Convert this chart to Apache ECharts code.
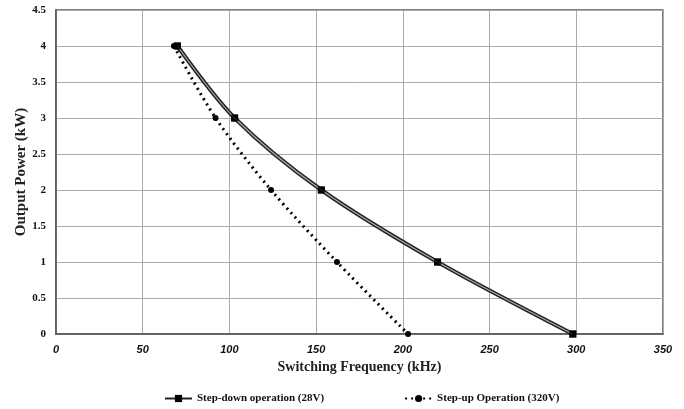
<!DOCTYPE html>
<html><head><meta charset="utf-8">
<script src="https://cdn.jsdelivr.net/npm/echarts@6/dist/echarts.min.js"></script>
<style>html,body{margin:0;padding:0;background:#fff;}#c{width:684px;height:409px;}</style>
</head><body><div id="c"></div>
<script>
var power = [4, 3, 2, 1, 0];
var stepDownFreq = [70, 103, 153, 220, 298];
var stepUpFreq = [68, 92, 124, 162, 203];
var xTicks = [0, 50, 100, 150, 200, 250, 300, 350];
var yTicks = [0, 0.5, 1, 1.5, 2, 2.5, 3, 3.5, 4, 4.5];
var nameDown = 'Step-down operation (28V)';
var nameUp = 'Step-up Operation (320V)';

function pairs(xs, ys){ return xs.map(function(x,i){ return [x, ys[i]]; }); }

var chart = echarts.init(document.getElementById('c'));
var serif = '"Liberation Serif", "DejaVu Serif", serif';
chart.setOption({
  animation: false,
  grid: { left: 56, right: 21, top: 10, bottom: 75, show: true, borderColor: '#555', borderWidth: 1.5 },
  xAxis: {
    type: 'value', min: 0, max: 350, interval: 50,
    name: 'Switching Frequency (kHz)', nameLocation: 'middle', nameGap: 25,
    nameTextStyle: { fontFamily: serif, fontWeight: 'bold', fontSize: 14, color: '#222' },
    axisLine: { show: true, lineStyle: { color: '#555', width: 1.5 } },
    axisTick: { show: false },
    axisLabel: { fontFamily: '"Liberation Sans", Arial, sans-serif', fontStyle: 'italic', fontWeight: 'bold', fontSize: 11, color: '#111', margin: 10,
      formatter: function(v){ return xTicks.indexOf(v) >= 0 ? String(v) : ''; } },
    splitLine: { show: true, lineStyle: { color: '#aaa', width: 1 } }
  },
  yAxis: {
    type: 'value', min: 0, max: 4.5, interval: 0.5,
    name: 'Output Power (kW)', nameLocation: 'middle', nameGap: 27, nameMoveOverlap: false,
    nameTextStyle: { fontFamily: serif, fontWeight: 'bold', fontSize: 15, color: '#222' },
    axisLine: { show: true, lineStyle: { color: '#555', width: 1.5 } },
    axisTick: { show: false },
    axisLabel: { fontFamily: serif, fontWeight: 'bold', fontSize: 11, color: '#111', margin: 10,
      formatter: function(v){ return yTicks.indexOf(v) >= 0 ? String(v) : ''; } },
    splitLine: { show: true, lineStyle: { color: '#aaa', width: 1 } }
  },
  legend: {
    bottom: 0, left: 159, itemGap: 80, itemWidth: 27, itemHeight: 9,
    data: [nameDown, nameUp],
    textStyle: { fontFamily: serif, fontWeight: 'bold', fontSize: 11, color: '#111' }
  },
  series: [
    { name: nameDown, type: 'line', smooth: 0.3, data: pairs(stepDownFreq, power),
      symbol: 'rect', symbolSize: 7, itemStyle: { color: '#000' },
      lineStyle: { color: '#222', width: 4 }, z: 3 },
    { name: 'inner', type: 'line', smooth: 0.3, data: pairs(stepDownFreq, power),
      symbol: 'none', lineStyle: { color: '#aaa', width: 1.2 }, z: 4, silent: true },
    { name: 'marks', type: 'scatter', data: pairs(stepDownFreq, power),
      symbol: 'rect', symbolSize: 7, itemStyle: { color: '#000' }, z: 5, silent: true },
    { name: nameUp, type: 'line', smooth: 0.3, data: pairs(stepUpFreq, power),
      symbol: 'circle', symbolSize: 6, itemStyle: { color: '#000' },
      lineStyle: { color: '#000', width: 3, type: [2, 4] }, z: 3 }
  ]
});
</script></body></html>
